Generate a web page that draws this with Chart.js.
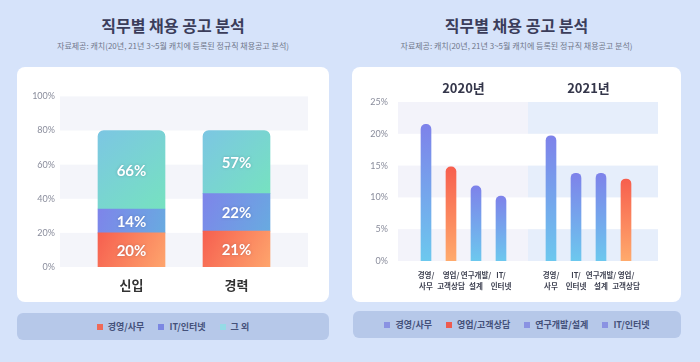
<!DOCTYPE html>
<html>
<head>
<meta charset="utf-8">
<script src="https://cdn.jsdelivr.net/npm/chart.js@4"></script>
<style>
  body { margin: 0; width: 700px; height: 362px; background: #d6e3fa; font-family: "Noto Sans CJK KR", sans-serif; position: relative; overflow: hidden; }
  .title { position: absolute; top: 14px; line-height: 22px; font-size: 16px; font-weight: bold; color: #3b3d5a; text-align: center; }
  .sub { position: absolute; top: 40px; line-height: 12px; font-size: 8px; color: #70778a; text-align: center; }
  .card { position: absolute; top: 67px; height: 235px; background: #fff; border-radius: 8px; }
  .legend { position: absolute; height: 27px; background: #b6c8e9; border-radius: 6px; display: flex; justify-content: center; align-items: center; font-size: 9px; font-weight: bold; color: #44517a; }
  .legend span { display: inline-flex; align-items: center; margin: 0 7px; }
  .legend i { display: inline-block; width: 6px; height: 6px; margin-right: 5px; }
</style>
</head>
<body>
<div class="title" style="left:17px;width:312px">직무별 채용 공고 분석</div>
<div class="sub" style="left:17px;width:312px">자료제공: 캐치(20년, 21년 3~5월 캐치에 등록된 정규직 채용공고 분석)</div>
<div class="title" style="left:352px;width:329px">직무별 채용 공고 분석</div>
<div class="sub" style="left:352px;width:329px">자료제공: 캐치(20년, 21년 3~5월 캐치에 등록된 정규직 채용공고 분석)</div>

<div class="card" style="left:17px;width:312px"><canvas id="left" width="312" height="235"></canvas></div>
<div class="card" style="left:352px;width:329px"><canvas id="right" width="329" height="235"></canvas></div>

<div class="legend" id="legendLeft" style="left:17px;top:313px;width:312px"></div>
<div class="legend" id="legendRight" style="left:353px;top:311px;width:328px"></div>

<script>
// left: share by career level
const groups = ["신입", "경력"];
const seriesNames = ["경영/사무", "IT/인터넷", "그 외"];
const officeShare = [20, 21];
const itShare = [14, 22];
const otherShare = [66, 57];
// the original caps the "그 외" bar at 80%, so this is the drawn height
const otherShown = [46, 37];

// right: share by job, per year
const years = ["2020년", "2021년"];
const jobs2020 = ["경영/사무", "영업/고객상담", "연구개발/설계", "IT/인터넷"];
const values2020 = [21.5, 14.8, 11.8, 10.2];
const jobs2021 = ["경영/사무", "IT/인터넷", "연구개발/설계", "영업/고객상담"];
const values2021 = [19.7, 13.8, 13.8, 12.9];
const legendJobs = ["경영/사무", "영업/고객상담", "연구개발/설계", "IT/인터넷"];

const FONT = "'Noto Sans CJK KR', sans-serif";
const NUMFONT = "Lato, 'Noto Sans CJK KR', sans-serif";
Chart.defaults.font.family = FONT;

// legends
const leftColors = ["#ef6a58", "#7b87e2", "#95dbe6"];
document.getElementById("legendLeft").innerHTML = seriesNames
  .map((n, i) => `<span><i style="background:${leftColors[i]}"></i>${n}</span>`).join("");
document.getElementById("legendRight").innerHTML = legendJobs
  .map(n => `<span><i style="background:${n === "영업/고객상담" ? "#ee5b50" : "#8a92e2"}"></i>${n}</span>`).join("");

// ---- left chart ----
const leftSets = [officeShare, itShare, otherShown];
const leftLabels = [officeShare, itShare, otherShare];
const segColors = [["#f65f4f", "#fea56d"], ["#7e84ea", "#68abe0"], ["#7cc6e3", "#76e2c0"]];

function segGradient(ctx, k) {
  const chart = ctx.chart;
  if (!chart.chartArea) return segColors[k][0];
  const i = ctx.dataIndex;
  let start = 0;
  for (let j = 0; j < k; j++) start += leftSets[j][i];
  const xc = chart.scales.x.getPixelForValue(i);
  const y0 = chart.scales.y.getPixelForValue(start + leftSets[k][i]);
  const y1 = chart.scales.y.getPixelForValue(start);
  const g = chart.ctx.createLinearGradient(xc - 34, y0, xc + 34, y1);
  g.addColorStop(0, segColors[k][0]);
  g.addColorStop(1, segColors[k][1]);
  return g;
}

const stripes = {
  id: "stripes",
  beforeDatasetsDraw(chart, args, opts) {
    const { ctx, scales: { x, y } } = chart;
    const l = chart.chartArea.left - opts.padLeft;
    const r = chart.chartArea.right + opts.padRight;
    const split = opts.split != null ? x.getPixelForValue(opts.split) + 2 : r;
    ctx.save();
    for (const [a, b] of opts.bands) {
      const top = y.getPixelForValue(b), bot = y.getPixelForValue(a);
      ctx.fillStyle = opts.color;
      ctx.fillRect(l, top, split - l, bot - top);
      if (split < r) {
        ctx.fillStyle = opts.color2;
        ctx.fillRect(split, top, r - split, bot - top);
      }
    }
    ctx.restore();
  }
};

const segLabels = {
  id: "segLabels",
  afterDatasetsDraw(chart) {
    const ctx = chart.ctx;
    ctx.save();
    ctx.font = "bold 15px " + NUMFONT;
    ctx.fillStyle = "#fff";
    ctx.textAlign = "center";
    ctx.textBaseline = "middle";
    ctx.shadowColor = "rgba(40,40,80,0.25)";
    ctx.shadowBlur = 3;
    chart.data.datasets.forEach((ds, k) => {
      chart.getDatasetMeta(k).data.forEach((bar, i) => {
        ctx.fillText(leftLabels[k][i] + "%", bar.x, (bar.y + bar.base) / 2 + 1);
      });
    });
    ctx.restore();
  }
};

new Chart(document.getElementById("left"), {
  type: "bar",
  data: {
    labels: groups,
    datasets: leftSets.map((d, k) => ({
      label: seriesNames[k],
      data: d,
      backgroundColor: ctx => segGradient(ctx, k),
      barThickness: 67,
      borderRadius: k === 2 ? 6 : 0,
      borderSkipped: "bottom"
    }))
  },
  options: {
    responsive: false,
    animation: false,
    layout: { padding: { top: 25, right: 40, left: 0, bottom: 0 } },
    plugins: {
      legend: { display: false },
      tooltip: { enabled: false },
      stripes: { bands: [[0, 20], [40, 60], [80, 100]], color: "#f4f5fa", padLeft: 19, padRight: 19 }
    },
    scales: {
      x: {
        stacked: true,
        grid: { display: false, drawTicks: false },
        border: { display: false },
        ticks: { color: "#333", font: { size: 13, weight: "bold" }, padding: 10 },
        afterFit: s => { s.height = 35; }
      },
      y: {
        stacked: true,
        min: 0, max: 100,
        grid: { display: false, drawTicks: false },
        border: { display: false },
        ticks: { stepSize: 20, color: "#8a8d9c", font: { family: NUMFONT, size: 9 }, padding: 24, callback: v => v + "%" },
        afterFit: s => { s.width = 62; }
      }
    }
  },
  plugins: [stripes, segLabels]
});

// ---- right chart ----
const xLabels = [...jobs2020, "", ...jobs2021];
const xValues = [...values2020, null, ...values2021];

function jobGradient(ctx) {
  const chart = ctx.chart;
  const orange = xLabels[ctx.dataIndex] === "영업/고객상담";
  const c = orange ? ["#f75f4e", "#ffaa6c"] : ["#7e82ea", "#6cc8ee"];
  if (!chart.chartArea) return c[0];
  const v = xValues[ctx.dataIndex] || 0;
  const g = chart.ctx.createLinearGradient(0, chart.scales.y.getPixelForValue(v), 0, chart.scales.y.getPixelForValue(0));
  g.addColorStop(0, c[0]);
  g.addColorStop(1, c[1]);
  return g;
}

const yearTitles = {
  id: "yearTitles",
  afterDraw(chart) {
    const ctx = chart.ctx;
    ctx.save();
    ctx.font = "bold 13px " + FONT;
    ctx.fillStyle = "#34364a";
    ctx.textAlign = "center";
    ctx.textBaseline = "middle";
    ctx.fillText(years[0], chart.scales.x.getPixelForValue(1.5), 21);
    ctx.fillText(years[1], chart.scales.x.getPixelForValue(6.5), 21);
    ctx.restore();
  }
};

new Chart(document.getElementById("right"), {
  type: "bar",
  data: {
    labels: xLabels,
    datasets: [{
      data: xValues,
      backgroundColor: jobGradient,
      barThickness: 10,
      borderRadius: 5,
      borderSkipped: "bottom"
    }]
  },
  options: {
    responsive: false,
    animation: false,
    layout: { padding: { top: 35, right: 42.5, left: 0, bottom: 0 } },
    plugins: {
      legend: { display: false },
      tooltip: { enabled: false },
      stripes: { bands: [[0, 5], [10, 15], [20, 25]], color: "#f3f3fa", color2: "#e6eefb", split: 4, padLeft: 15.5, padRight: 19.5 }
    },
    scales: {
      x: {
        grid: { display: false, drawTicks: false },
        border: { display: false },
        ticks: {
          autoSkip: false, maxRotation: 0, padding: 9,
          color: "#3f4252", font: { size: 7.5, weight: "bold", lineHeight: 1.45 },
          callback: (v, i) => {
            const n = xLabels[i];
            if (!n) return "";
            const p = n.indexOf("/");
            return [n.slice(0, p + 1), n.slice(p + 1)];
          }
        },
        afterFit: s => { s.height = 41; }
      },
      y: {
        min: 0, max: 25,
        grid: { display: false, drawTicks: false },
        border: { display: false },
        ticks: { stepSize: 5, color: "#8a8d9c", font: { family: NUMFONT, size: 9 }, padding: 25.5, callback: v => v + "%" },
        afterFit: s => { s.width = 61.5; }
      }
    }
  },
  plugins: [stripes, yearTitles]
});
</script>
</body>
</html>
